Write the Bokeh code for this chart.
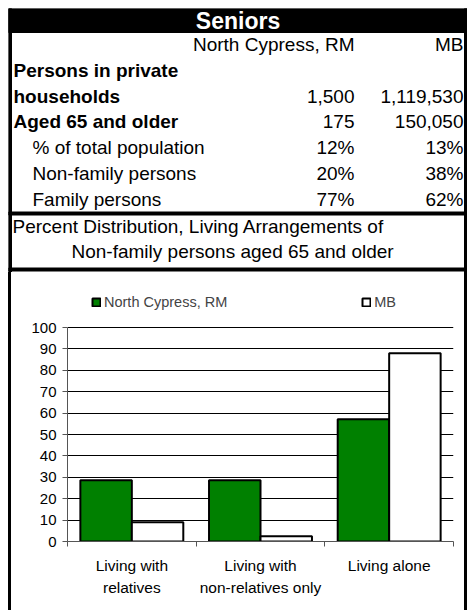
from bokeh.plotting import figure
from bokeh.models import (Range1d, FixedTicker, Legend, LegendItem, ColumnDataSource, Spacer)
from bokeh.layouts import column, row
from bokeh.transform import dodge
from bokeh.core.properties import value
from bokeh.embed import file_html
from bokeh.resources import INLINE

# ---------------- data ----------------
title_text = "Seniors"
col_headers = ["North Cypress, RM", "MB"]
row_labels = ["Persons in private households", "Aged 65 and older",
              "% of total population", "Non-family persons", "Family persons"]
north_cypress_vals = ["1,500", "175", "12%", "20%", "77%"]
mb_vals = ["1,119,530", "150,050", "13%", "38%", "62%"]
chart_title_lines = ["Percent Distribution, Living Arrangements of",
                     "Non-family persons aged 65 and older"]
categories = ["Living with\nrelatives", "Living with\nnon-relatives only", "Living alone"]
north_cypress_pct = [28.6, 28.6, 57.1]
mb_pct = [9.0, 2.5, 88.0]
y_ticks = list(range(0, 101, 10))

FONT = value("Liberation Sans")

# ---------------- table figure ----------------
W = 459
TH = 264
top = figure(width=W, height=TH, x_range=Range1d(0, W), y_range=Range1d(TH, 0),
             output_backend="svg", toolbar_location=None, min_border=0,
             x_axis_location=None, y_axis_location=None, outline_line_color=None)
top.grid.visible = False

# frame pieces
top.quad(left=0, right=W, top=0, bottom=24, color="black")
top.quad(left=0, right=3, top=0, bottom=TH, color="black")
top.quad(left=W - 3, right=W, top=0, bottom=TH, color="black")
top.quad(left=0, right=W, top=203.5, bottom=206.5, color="black")
top.quad(left=0, right=W, top=259.5, bottom=262.5, color="black")

top.text(x=[W / 2], y=[12], text=[title_text], text_color="white", text_font=FONT,
         text_font_style="bold", text_font_size="23px", text_align="center",
         text_baseline="middle")

NC_X, MB_X = 346, 455
ROW0, STEP = 36, 25.8
FS = "19px"
top.text(x=[NC_X, MB_X], y=[ROW0, ROW0], text=col_headers, text_font=FONT,
         text_font_size=FS, text_align="right", text_baseline="middle")

y = ROW0 + STEP
for i, lab in enumerate(row_labels):
    bold = i < 2
    indent = 24 if i >= 2 else 5
    lines = lab.rsplit(" ", 1) if i == 0 else [lab]
    for j, ln in enumerate(lines):
        top.text(x=[indent], y=[y], text=[ln], text_font=FONT, text_font_size=FS,
                 text_font_style="bold" if bold else "normal",
                 text_align="left", text_baseline="middle")
        if j < len(lines) - 1:
            y += STEP
    top.text(x=[NC_X, MB_X], y=[y, y], text=[north_cypress_vals[i], mb_vals[i]],
             text_font=FONT, text_font_size=FS, text_align="right", text_baseline="middle")
    y += STEP

top.text(x=[4], y=[218], text=[chart_title_lines[0]], text_font=FONT, text_font_size=FS,
         text_align="left", text_baseline="middle")
top.text(x=[63], y=[243], text=[chart_title_lines[1]], text_font=FONT, text_font_size=FS,
         text_align="left", text_baseline="middle")

# ---------------- chart figure ----------------
CW = W - 6
CH = 338
n = len(categories)
centers = [i + 0.5 for i in range(n)]
Y_VIEW_TOP = 119.2   # extra room above 100 for the legend inside the frame
p = figure(width=CW, height=CH, x_range=Range1d(0, n),
           y_range=Range1d(0, Y_VIEW_TOP), output_backend="svg", toolbar_location=None,
           x_axis_location="below", min_border_left=56, min_border_right=11,
           min_border_top=14, min_border_bottom=CH - 269, outline_line_color=None)
p.xgrid.visible = False
p.ygrid.ticker = FixedTicker(ticks=y_ticks)
p.ygrid.grid_line_color = "black"

yax = p.yaxis[0]
yax.ticker = FixedTicker(ticks=y_ticks)
yax.bounds = (0, 100)
yax.major_tick_out = 5
yax.major_tick_in = 0
yax.minor_tick_line_color = None
yax.axis_line_color = "#555555"
yax.major_tick_line_color = "#555555"
yax.major_label_text_font = "Liberation Sans"
yax.major_label_text_font_size = "15px"
yax.major_label_text_color = "black"
yax.major_label_standoff = 6

xax = p.xaxis[0]
xax.ticker = FixedTicker(ticks=centers, minor_ticks=list(range(n + 1)))
xax.major_label_overrides = {c: lab for c, lab in zip(centers, categories)}
xax.axis_line_color = "#555555"
xax.major_tick_line_color = None
xax.major_tick_out = 0
xax.major_tick_in = 0
xax.minor_tick_out = 5
xax.minor_tick_in = 0
xax.minor_tick_line_color = "#555555"
xax.major_label_text_font = "Liberation Sans"
xax.major_label_text_font_size = "15.5px"
xax.major_label_text_color = "black"
xax.major_label_text_line_height = 1.3
xax.major_label_standoff = 10

src = ColumnDataSource(dict(x=centers, cat=categories, nc=north_cypress_pct, mb=mb_pct))
r1 = p.vbar(x=dodge("x", -0.2), top="nc", width=0.4, source=src,
            fill_color="#008000", line_color="black", line_width=2)
r2 = p.vbar(x=dodge("x", 0.2), top="mb", width=0.4, source=src,
            fill_color="white", line_color="black", line_width=2)

legend = Legend(items=[LegendItem(label=col_headers[0], renderers=[r1]),
                       LegendItem(label=col_headers[1], renderers=[r2])],
                orientation="horizontal", location=(24, 231), spacing=134,
                glyph_width=10, glyph_height=10, label_standoff=3, padding=0, margin=0,
                border_line_color=None, background_fill_alpha=0,
                label_text_font="Liberation Sans", label_text_font_size="14.5px")
p.add_layout(legend)

left_bar = Spacer(width=3, height=CH, margin=0, styles={"background-color": "black"})
right_bar = Spacer(width=3, height=CH, margin=0, styles={"background-color": "black"})

layout = column(top, row(left_bar, p, right_bar))
layout.margin = (8, 8, 0, 8)

open("out.html", "w").write(file_html(layout, INLINE))
